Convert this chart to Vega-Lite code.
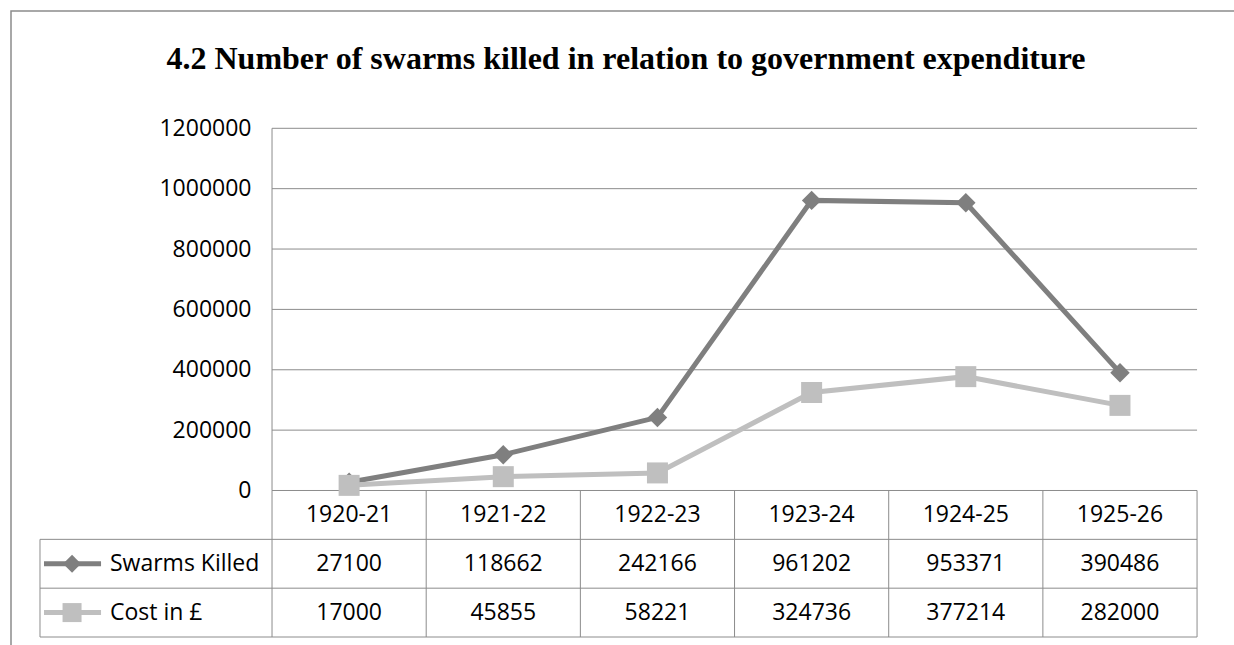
{
  "$schema": "https://vega.github.io/schema/vega-lite/v6.json",
  "width": 1230,
  "height": 645,
  "autosize": {"type": "none"},
  "padding": {"left": 11, "top": 11, "right": 0, "bottom": 0},
  "background": "white",
  "config": {
    "view": {"stroke": "#8c8c8c", "strokeWidth": 1.5},
    "text": {"font": "Open Sans", "fontSize": 23, "color": "black", "baseline": "middle"}
  },
  "title": {
    "text": "4.2 Number of swarms killed in relation to government expenditure",
    "font": "Liberation Serif",
    "fontSize": 32,
    "fontWeight": "bold",
    "color": "black",
    "anchor": "middle",
    "frame": "group",
    "baseline": "alphabetic",
    "offset": -90
  },
  "data": {
    "values": [
      {"period": "1920-21", "idx": 0, "series": "Swarms Killed", "row": 1, "value": 27100},
      {"period": "1921-22", "idx": 1, "series": "Swarms Killed", "row": 1, "value": 118662},
      {"period": "1922-23", "idx": 2, "series": "Swarms Killed", "row": 1, "value": 242166},
      {"period": "1923-24", "idx": 3, "series": "Swarms Killed", "row": 1, "value": 961202},
      {"period": "1924-25", "idx": 4, "series": "Swarms Killed", "row": 1, "value": 953371},
      {"period": "1925-26", "idx": 5, "series": "Swarms Killed", "row": 1, "value": 390486},
      {"period": "1920-21", "idx": 0, "series": "Cost in £", "row": 2, "value": 17000},
      {"period": "1921-22", "idx": 1, "series": "Cost in £", "row": 2, "value": 45855},
      {"period": "1922-23", "idx": 2, "series": "Cost in £", "row": 2, "value": 58221},
      {"period": "1923-24", "idx": 3, "series": "Cost in £", "row": 2, "value": 324736},
      {"period": "1924-25", "idx": 4, "series": "Cost in £", "row": 2, "value": 377214},
      {"period": "1925-26", "idx": 5, "series": "Cost in £", "row": 2, "value": 282000}
    ]
  },
  "resolve": {"scale": {"y": "independent"}},
  "layer": [
    {
      "data": {"values": [{"tick": 0}, {"tick": 200000}, {"tick": 400000}, {"tick": 600000}, {"tick": 800000}, {"tick": 1000000}, {"tick": 1200000}]},
      "mark": {"type": "rule", "color": "#8c8c8c", "strokeWidth": 1},
      "encoding": {
        "x": {"datum": -0.5, "type": "quantitative", "scale": {"domain": [-2.193, 5.785], "nice": false, "zero": false}, "axis": null},
        "x2": {"datum": 5.5},
        "y": {
          "field": "tick", "type": "quantitative",
          "scale": {"domain": [-548316, 1588625], "nice": false, "zero": false},
          "axis": {
            "orient": "left", "offset": -240, "values": [0, 200000, 400000, 600000, 800000, 1000000, 1200000],
            "format": "d", "domain": false, "ticks": false, "tickSize": 0, "grid": false,
            "labelPadding": 0, "labelFont": "Open Sans", "labelFontSize": 23, "labelColor": "black",
            "labelFlush": false, "labelOverlap": false, "title": null
          }
        }
      }
    },
    {
      "data": {"values": [{}]},
      "mark": {"type": "rule", "color": "#8c8c8c", "strokeWidth": 1},
      "encoding": {
        "x": {"datum": -0.5, "type": "quantitative", "axis": null},
        "y": {"datum": 0, "type": "quantitative", "scale": {"domain": [-548316, 1588625], "nice": false, "zero": false}, "axis": null},
        "y2": {"datum": 1200000}
      }
    },
    {
      "mark": {"type": "line", "strokeWidth": 5},
      "encoding": {
        "x": {"field": "idx", "type": "quantitative", "axis": null},
        "y": {"field": "value", "type": "quantitative", "scale": {"domain": [-548316, 1588625], "nice": false, "zero": false}, "axis": null},
        "color": {"field": "series", "type": "nominal", "scale": {"domain": ["Swarms Killed", "Cost in £"], "range": ["#7f7f7f", "#bfbfbf"]}, "legend": null}
      }
    },
    {
      "transform": [{"filter": "datum.series === 'Swarms Killed'"}],
      "mark": {"type": "point", "filled": true, "shape": "diamond", "size": 380, "opacity": 1},
      "encoding": {
        "x": {"field": "idx", "type": "quantitative", "axis": null},
        "y": {"field": "value", "type": "quantitative", "scale": {"domain": [-548316, 1588625], "nice": false, "zero": false}, "axis": null},
        "color": {"field": "series", "type": "nominal", "legend": null}
      }
    },
    {
      "transform": [{"filter": "datum.series === 'Cost in £'"}],
      "mark": {"type": "point", "filled": true, "shape": "square", "size": 441, "opacity": 1},
      "encoding": {
        "x": {"field": "idx", "type": "quantitative", "axis": null},
        "y": {"field": "value", "type": "quantitative", "scale": {"domain": [-548316, 1588625], "nice": false, "zero": false}, "axis": null},
        "color": {"field": "series", "type": "nominal", "legend": null}
      }
    },
    {
      "transform": [{"filter": "datum.series === 'Swarms Killed'"}],
      "mark": {"type": "text", "align": "center"},
      "encoding": {
        "x": {"field": "idx", "type": "quantitative", "axis": null},
        "y": {"datum": 0, "type": "quantitative", "scale": {"domain": [-10.32, 2.889], "nice": false, "zero": false, "reverse": true}, "axis": null},
        "text": {"field": "period"}
      }
    },
    {
      "mark": {"type": "text", "align": "center"},
      "encoding": {
        "x": {"field": "idx", "type": "quantitative", "axis": null},
        "y": {"field": "row", "type": "quantitative", "scale": {"domain": [-10.32, 2.889], "nice": false, "zero": false, "reverse": true}, "axis": null},
        "text": {"field": "value", "type": "quantitative", "format": "d"}
      }
    },
    {
      "transform": [{"filter": "datum.idx === 0"}],
      "mark": {"type": "text", "align": "left"},
      "encoding": {
        "x": {"datum": -1.551, "type": "quantitative", "axis": null},
        "y": {"field": "row", "type": "quantitative", "scale": {"domain": [-10.32, 2.889], "nice": false, "zero": false, "reverse": true}, "axis": null},
        "text": {"field": "series"}
      }
    },
    {
      "transform": [{"filter": "datum.idx === 0"}],
      "mark": {"type": "rule", "strokeWidth": 5},
      "encoding": {
        "x": {"datum": -1.979, "type": "quantitative", "axis": null},
        "x2": {"datum": -1.609},
        "y": {"field": "row", "type": "quantitative", "scale": {"domain": [-10.32, 2.889], "nice": false, "zero": false, "reverse": true}, "axis": null},
        "color": {"field": "series", "type": "nominal", "legend": null}
      }
    },
    {
      "transform": [{"filter": "datum.idx === 0 && datum.series === 'Swarms Killed'"}],
      "mark": {"type": "point", "filled": true, "shape": "diamond", "size": 320, "opacity": 1},
      "encoding": {
        "x": {"datum": -1.797, "type": "quantitative", "axis": null},
        "y": {"field": "row", "type": "quantitative", "scale": {"domain": [-10.32, 2.889], "nice": false, "zero": false, "reverse": true}, "axis": null},
        "color": {"field": "series", "type": "nominal", "legend": null}
      }
    },
    {
      "transform": [{"filter": "datum.idx === 0 && datum.series === 'Cost in £'"}],
      "mark": {"type": "point", "filled": true, "shape": "square", "size": 361, "opacity": 1},
      "encoding": {
        "x": {"datum": -1.797, "type": "quantitative", "axis": null},
        "y": {"field": "row", "type": "quantitative", "scale": {"domain": [-10.32, 2.889], "nice": false, "zero": false, "reverse": true}, "axis": null},
        "color": {"field": "series", "type": "nominal", "legend": null}
      }
    },
    {
      "data": {"values": [{}]},
      "mark": {"type": "rule", "color": "#8c8c8c", "strokeWidth": 1},
      "encoding": {
        "x": {"datum": -2.005, "type": "quantitative", "axis": null},
        "x2": {"datum": 5.5},
        "y": {"datum": 0.5, "type": "quantitative", "scale": {"domain": [-10.32, 2.889], "nice": false, "zero": false, "reverse": true}, "axis": null}
      }
    },
    {
      "data": {"values": [{}]},
      "mark": {"type": "rule", "color": "#8c8c8c", "strokeWidth": 1},
      "encoding": {
        "x": {"datum": -2.005, "type": "quantitative", "axis": null},
        "x2": {"datum": 5.5},
        "y": {"datum": 1.5, "type": "quantitative", "scale": {"domain": [-10.32, 2.889], "nice": false, "zero": false, "reverse": true}, "axis": null}
      }
    },
    {
      "data": {"values": [{}]},
      "mark": {"type": "rule", "color": "#8c8c8c", "strokeWidth": 1},
      "encoding": {
        "x": {"datum": -2.005, "type": "quantitative", "axis": null},
        "x2": {"datum": 5.5},
        "y": {"datum": 2.5, "type": "quantitative", "scale": {"domain": [-10.32, 2.889], "nice": false, "zero": false, "reverse": true}, "axis": null}
      }
    },
    {
      "data": {"values": [{}]},
      "mark": {"type": "rule", "color": "#8c8c8c", "strokeWidth": 1},
      "encoding": {
        "x": {"datum": -2.005, "type": "quantitative", "axis": null},
        "y": {"datum": 0.5, "type": "quantitative", "scale": {"domain": [-10.32, 2.889], "nice": false, "zero": false, "reverse": true}, "axis": null},
        "y2": {"datum": 2.5}
      }
    },
    {
      "data": {"values": [{}]},
      "mark": {"type": "rule", "color": "#8c8c8c", "strokeWidth": 1},
      "encoding": {
        "x": {"datum": -0.5, "type": "quantitative", "axis": null},
        "y": {"datum": -0.5, "type": "quantitative", "scale": {"domain": [-10.32, 2.889], "nice": false, "zero": false, "reverse": true}, "axis": null},
        "y2": {"datum": 2.5}
      }
    },
    {
      "data": {"values": [{}]},
      "mark": {"type": "rule", "color": "#8c8c8c", "strokeWidth": 1},
      "encoding": {
        "x": {"datum": 0.5, "type": "quantitative", "axis": null},
        "y": {"datum": -0.5, "type": "quantitative", "scale": {"domain": [-10.32, 2.889], "nice": false, "zero": false, "reverse": true}, "axis": null},
        "y2": {"datum": 2.5}
      }
    },
    {
      "data": {"values": [{}]},
      "mark": {"type": "rule", "color": "#8c8c8c", "strokeWidth": 1},
      "encoding": {
        "x": {"datum": 1.5, "type": "quantitative", "axis": null},
        "y": {"datum": -0.5, "type": "quantitative", "scale": {"domain": [-10.32, 2.889], "nice": false, "zero": false, "reverse": true}, "axis": null},
        "y2": {"datum": 2.5}
      }
    },
    {
      "data": {"values": [{}]},
      "mark": {"type": "rule", "color": "#8c8c8c", "strokeWidth": 1},
      "encoding": {
        "x": {"datum": 2.5, "type": "quantitative", "axis": null},
        "y": {"datum": -0.5, "type": "quantitative", "scale": {"domain": [-10.32, 2.889], "nice": false, "zero": false, "reverse": true}, "axis": null},
        "y2": {"datum": 2.5}
      }
    },
    {
      "data": {"values": [{}]},
      "mark": {"type": "rule", "color": "#8c8c8c", "strokeWidth": 1},
      "encoding": {
        "x": {"datum": 3.5, "type": "quantitative", "axis": null},
        "y": {"datum": -0.5, "type": "quantitative", "scale": {"domain": [-10.32, 2.889], "nice": false, "zero": false, "reverse": true}, "axis": null},
        "y2": {"datum": 2.5}
      }
    },
    {
      "data": {"values": [{}]},
      "mark": {"type": "rule", "color": "#8c8c8c", "strokeWidth": 1},
      "encoding": {
        "x": {"datum": 4.5, "type": "quantitative", "axis": null},
        "y": {"datum": -0.5, "type": "quantitative", "scale": {"domain": [-10.32, 2.889], "nice": false, "zero": false, "reverse": true}, "axis": null},
        "y2": {"datum": 2.5}
      }
    },
    {
      "data": {"values": [{}]},
      "mark": {"type": "rule", "color": "#8c8c8c", "strokeWidth": 1},
      "encoding": {
        "x": {"datum": 5.5, "type": "quantitative", "axis": null},
        "y": {"datum": -0.5, "type": "quantitative", "scale": {"domain": [-10.32, 2.889], "nice": false, "zero": false, "reverse": true}, "axis": null},
        "y2": {"datum": 2.5}
      }
    }
  ]
}
